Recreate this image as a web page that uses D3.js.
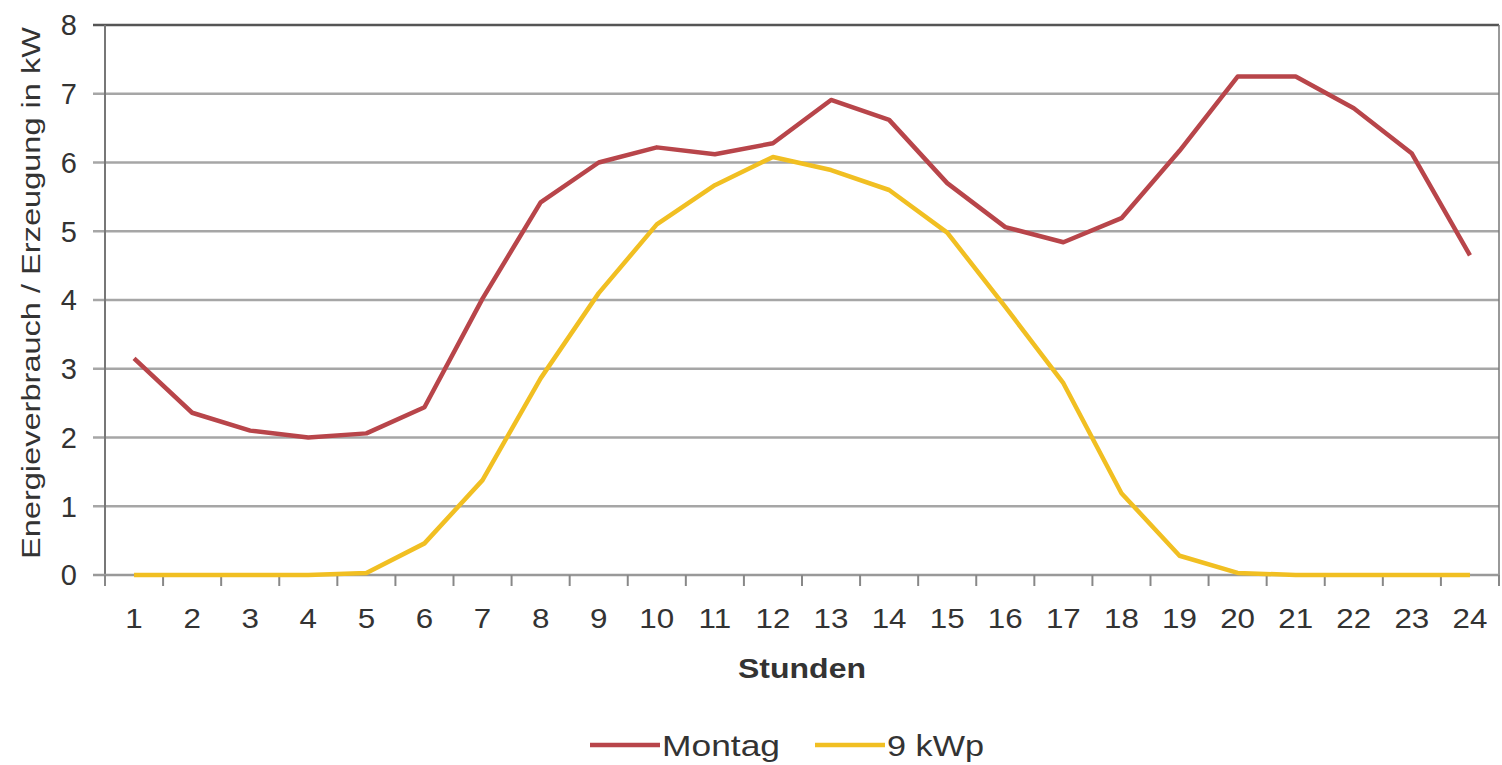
<!DOCTYPE html>
<html>
<head>
<meta charset="utf-8">
<script src="https://cdn.jsdelivr.net/npm/d3@7"></script>
<style>
  html, body { margin: 0; padding: 0; background: #fff; }
  svg { display: block; font-family: "Liberation Sans", Arial, sans-serif; }
</style>
</head>
<body>
<svg id="chart" width="1502" height="765"></svg>
<script>
// Hourly load profile for Monday vs. PV generation of a 9 kWp system
const hours = ["1","2","3","4","5","6","7","8","9","10","11","12","13","14","15","16","17","18","19","20","21","22","23","24"];
const montag = [3.15, 2.36, 2.1, 2.0, 2.06, 2.44, 4.02, 5.42, 6.0, 6.22, 6.12, 6.28, 6.91, 6.62, 5.7, 5.06, 4.84, 5.19, 6.17, 7.25, 7.25, 6.79, 6.13, 4.65];
const pv9kwp = [0, 0, 0, 0, 0.03, 0.46, 1.38, 2.86, 4.1, 5.1, 5.67, 6.08, 5.89, 5.6, 4.98, 3.9, 2.79, 1.19, 0.28, 0.03, 0, 0, 0, 0];
const yTicks = [0, 1, 2, 3, 4, 5, 6, 7, 8];
const seriesNames = ["Montag", "9 kWp"];
const seriesColors = ["#b8454a", "#f1bf22"];

const svg = d3.select("#chart");
const margin = { left: 105, right: 3, top: 25, bottom: 190 };
const W = 1502, H = 765;
const x0 = margin.left, x1 = W - margin.right;
const y0 = margin.top, y1 = H - margin.bottom;

const x = d3.scaleBand().domain(hours).range([x0, x1]);
const y = d3.scaleLinear().domain([0, 8]).range([y1, y0]);

// Horizontal gridlines (extend slightly left as tick marks)
svg.append("g").selectAll("line").data(yTicks.filter(d => d > 0)).join("line")
  .attr("x1", x0 - 12).attr("x2", x1)
  .attr("y1", d => y(d)).attr("y2", d => y(d))
  .attr("stroke", d => d === 8 ? "#555" : "#a6a6a6")
  .attr("stroke-width", 2.5);

// Right frame edge
svg.append("line")
  .attr("x1", x1).attr("x2", x1).attr("y1", y0).attr("y2", y1)
  .attr("stroke", "#777").attr("stroke-width", 1.5);

// Y axis line
svg.append("line")
  .attr("x1", x0).attr("x2", x0).attr("y1", y0).attr("y2", y1)
  .attr("stroke", "#777").attr("stroke-width", 2);

// X axis line
svg.append("line")
  .attr("x1", x0 - 12).attr("x2", x1).attr("y1", y1).attr("y2", y1)
  .attr("stroke", "#999").attr("stroke-width", 2.5);

// X tick marks at category boundaries
const boundaries = hours.map(h => x(h)).concat([x1]);
svg.append("g").selectAll("line").data(boundaries).join("line")
  .attr("x1", d => d).attr("x2", d => d)
  .attr("y1", y1).attr("y2", y1 + 11)
  .attr("stroke", "#888").attr("stroke-width", 2);

// Y tick labels
svg.append("g").selectAll("text").data(yTicks).join("text")
  .attr("x", 77).attr("y", d => y(d))
  .attr("dy", "0.36em")
  .attr("text-anchor", "end")
  .attr("font-size", 29)
  .attr("fill", "#333")
  .text(d => d);

// X tick labels
svg.append("g").selectAll("text").data(hours).join("text")
  .attr("x", d => x(d) + x.bandwidth() / 2)
  .attr("y", 618).attr("dy", "0.36em")
  .attr("text-anchor", "middle")
  .attr("font-size", 28)
  .attr("fill", "#333")
  .attr("transform", d => {
    const cx = x(d) + x.bandwidth() / 2;
    return `translate(${cx},0) scale(1.12,1) translate(${-cx},0)`;
  })
  .text(d => d);

// Axis titles
svg.append("text")
  .attr("x", (x0 + x1) / 2).attr("y", 668).attr("dy", "0.36em")
  .attr("text-anchor", "middle")
  .attr("font-size", 28).attr("font-weight", "bold")
  .attr("fill", "#333")
  .attr("textLength", 128).attr("lengthAdjust", "spacingAndGlyphs")
  .text("Stunden");

svg.append("text")
  .attr("transform", `translate(31, 293) rotate(-90)`)
  .attr("dy", "0.36em")
  .attr("text-anchor", "middle")
  .attr("font-size", 26)
  .attr("fill", "#333")
  .attr("textLength", 532).attr("lengthAdjust", "spacingAndGlyphs")
  .text("Energieverbrauch  / Erzeugung in kW");

// Data lines
const line = d3.line()
  .x((d, i) => x(hours[i]) + x.bandwidth() / 2)
  .y(d => y(d));

[montag, pv9kwp].forEach((vals, k) => {
  svg.append("path")
    .datum(vals)
    .attr("d", line)
    .attr("fill", "none")
    .attr("stroke", seriesColors[k])
    .attr("stroke-width", 4.5)
    .attr("stroke-linejoin", "round");
});

// Legend
const legendItems = [
  { name: seriesNames[0], color: seriesColors[0], lx: 590, tw: 118 },
  { name: seriesNames[1], color: seriesColors[1], lx: 815, tw: 97 }
];
const lg = svg.append("g");
legendItems.forEach(it => {
  lg.append("line")
    .attr("x1", it.lx).attr("x2", it.lx + 70)
    .attr("y1", 745).attr("y2", 745)
    .attr("stroke", it.color).attr("stroke-width", 4.5);
  lg.append("text")
    .attr("x", it.lx + 72).attr("y", 745).attr("dy", "0.36em")
    .attr("font-size", 30).attr("fill", "#333")
    .attr("textLength", it.tw).attr("lengthAdjust", "spacingAndGlyphs")
    .text(it.name);
});
</script>
</body>
</html>
